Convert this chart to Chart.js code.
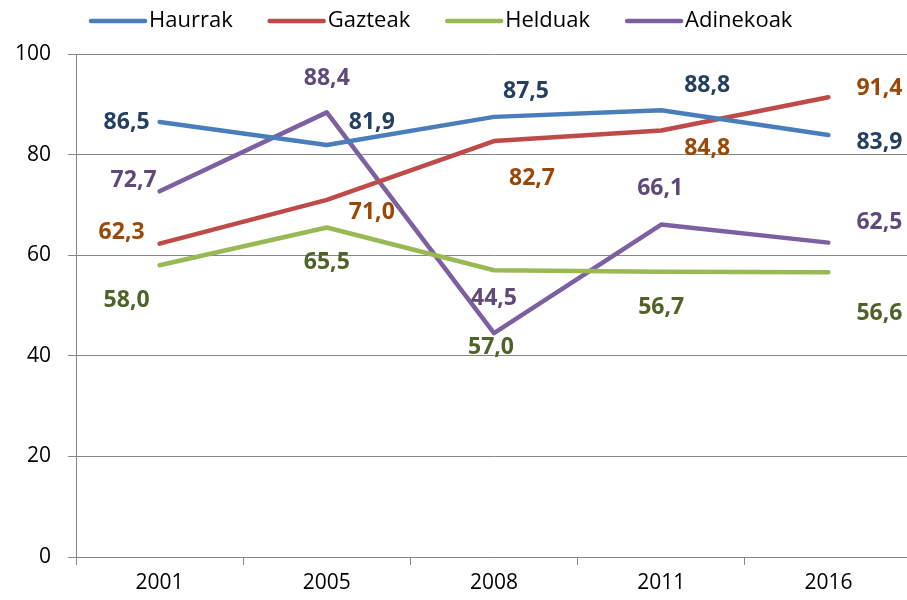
<!DOCTYPE html>
<html>
<head>
<meta charset="utf-8">
<script src="https://cdn.jsdelivr.net/npm/chart.js@4.4.1/dist/chart.umd.min.js"></script>
<style>
  html, body { margin: 0; padding: 0; background: #fff; overflow: hidden; }
  #wrap { width: 912px; height: 600px; }
</style>
</head>
<body>
<div id="wrap"><canvas id="grafikoa"></canvas></div>
<script>
// datuak
const CATEGORIES = ['2001', '2005', '2008', '2011', '2016'];
const HAURRAK = [86.5, 81.9, 87.5, 88.8, 83.9];
const GAZTEAK = [62.3, 71.0, 82.7, 84.8, 91.4];
const HELDUAK = [58.0, 65.5, 57.0, 56.7, 56.6];
const ADINEKOAK = [72.7, 88.4, 44.5, 66.1, 62.5];
const SERIES_NAMES = ['Haurrak', 'Gazteak', 'Helduak', 'Adinekoak'];
const Y_TICKS = [0, 20, 40, 60, 80, 100];

// itxura
const LINE_COLORS = ['#4A7EBB', '#BE4B48', '#98B954', '#7D60A0'];
const LABEL_COLORS = ['#243F60', '#984807', '#4F6228', '#5F497A'];
// etiketen desplazamendua puntuarekiko (px)
const LABEL_OFFSETS = [
    [[-33, 1], [45, -23], [32, -25], [46, -25], [51, 7]],
    [[-38, -11], [45, 13], [38, 37], [46, 18], [51, -9]],
    [[-33, 35], [0, 35], [-3, 77], [0, 36], [51, 41]],
    [[-26, -11], [0, -34], [0, -35], [-1, -36], [51, -20]]
];
const GRAY = '#868686';
const FONT = '"Open Sans", "Liberation Sans", Arial, sans-serif';

Chart.defaults.font.family = FONT;
Chart.defaults.font.size = 21;
Chart.defaults.color = '#000';

const seriesValues = [HAURRAK, GAZTEAK, HELDUAK, ADINEKOAK];

const datasets = seriesValues.map((vals, i) => ({
    label: SERIES_NAMES[i],
    data: vals,
    borderColor: LINE_COLORS[i],
    backgroundColor: LINE_COLORS[i],
    borderWidth: 4.5,
    borderCapStyle: 'round',
    borderJoinStyle: 'round',
    pointRadius: 0,
    tension: 0,
    fill: false
}));

const legendaPlugin = {
    id: 'legenda',
    afterDraw(chart) {
        const ctx = chart.ctx;
        ctx.save();
        ctx.font = '22px ' + FONT;
        ctx.textBaseline = 'middle';
        ctx.textAlign = 'left';
        let x = 91;
        const y = 21;
        chart.data.datasets.forEach(ds => {
            ctx.strokeStyle = ds.borderColor;
            ctx.lineWidth = 4.5;
            ctx.lineCap = 'round';
            ctx.beginPath();
            ctx.moveTo(x, y);
            ctx.lineTo(x + 54, y);
            ctx.stroke();
            ctx.fillStyle = '#000';
            ctx.fillText(ds.label, x + 58, y);
            x += 58 + ctx.measureText(ds.label).width + 37;
        });
        ctx.restore();
    }
};

const etiketakPlugin = {
    id: 'etiketak',
    afterDatasetsDraw(chart) {
        const ctx = chart.ctx;
        const xs = chart.scales.x;
        const ys = chart.scales.y;
        ctx.save();
        ctx.font = 'bold 23px ' + FONT;
        ctx.textAlign = 'center';
        ctx.textBaseline = 'middle';
        chart.data.datasets.forEach((ds, i) => {
            ctx.fillStyle = LABEL_COLORS[i];
            ds.data.forEach((v, j) => {
                const off = LABEL_OFFSETS[i][j];
                const px = xs.getPixelForValue(j) + off[0];
                const py = ys.getPixelForValue(v) + off[1];
                ctx.fillText(v.toFixed(1).replace('.', ','), px, py);
            });
        });
        ctx.restore();
    }
};

const config = {
    type: 'line',
    data: {
        labels: CATEGORIES,
        datasets: datasets
    },
    options: {
        responsive: true,
        maintainAspectRatio: false,
        animation: false,
        layout: { padding: { top: 54, left: 0, right: 0, bottom: 0 } },
        plugins: {
            legend: { display: false },
            tooltip: { enabled: false }
        },
        scales: {
            x: {
                offset: true,
                grid: {
                    offset: true,
                    drawOnChartArea: false,
                    drawTicks: true,
                    tickLength: 8,
                    color: GRAY,
                    tickColor: GRAY
                },
                border: { display: true, color: GRAY, width: 1 },
                ticks: { padding: 5, font: { size: 21 }, color: '#000' },
                afterFit(scale) { scale.height = 43; }
            },
            y: {
                min: 0,
                max: 100,
                afterBuildTicks(scale) {
                    scale.ticks = Y_TICKS.map(v => ({ value: v }));
                },
                grid: {
                    color: GRAY,
                    tickColor: GRAY,
                    tickLength: 8,
                    lineWidth: 1
                },
                border: { display: true, color: GRAY, width: 1 },
                ticks: { padding: 17, font: { size: 21 }, color: '#000' },
                afterFit(scale) { scale.width = 76; }
            }
        }
    },
    plugins: [legendaPlugin, etiketakPlugin]
};

const grafikoa = new Chart(document.getElementById('grafikoa'), config);
</script>
</body>
</html>
